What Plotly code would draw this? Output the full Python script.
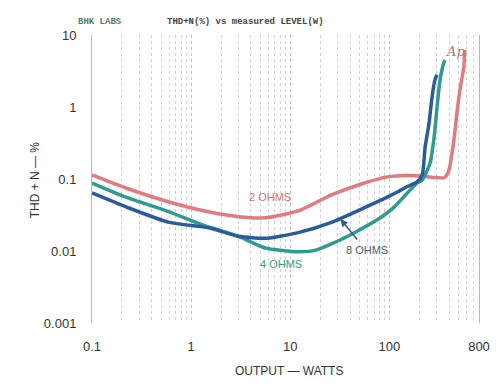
import math
import plotly.graph_objects as go

# THD+N vs output power
watts_2ohm = [0.1, 0.22, 0.6, 1.5, 3, 5.6, 12, 26, 56, 95, 150, 210, 280, 360, 398, 447, 479, 513, 562, 575]
thd_2ohm = [0.114, 0.075, 0.048, 0.035, 0.030, 0.029, 0.036, 0.060, 0.088, 0.107, 0.112, 0.110, 0.105, 0.105, 0.133, 0.35, 0.83, 1.7, 3.6, 6.2]

watts_4ohm = [0.1, 0.22, 0.6, 1.3, 3, 5.6, 12, 18, 38, 81, 110, 150, 190, 214, 257, 282, 302, 324, 355, 363]
thd_4ohm = [0.088, 0.056, 0.035, 0.023, 0.016, 0.011, 0.0098, 0.0103, 0.016, 0.029, 0.040, 0.063, 0.088, 0.097, 0.167, 0.38, 1.0, 2.4, 4.2, 4.5]

watts_8ohm = [0.1, 0.22, 0.6, 1.5, 3, 5.6, 12, 26, 56, 95, 120, 150, 190, 214, 229, 251, 269, 288, 302]
thd_8ohm = [0.064, 0.041, 0.025, 0.021, 0.016, 0.015, 0.018, 0.025, 0.040, 0.056, 0.066, 0.078, 0.091, 0.114, 0.28, 0.60, 1.38, 2.4, 2.8]

x_ticks = [0.1, 1, 10, 100, 800]
x_tick_text = ["0.1", "1", "10", "100", "800"]
y_ticks = [0.001, 0.01, 0.1, 1, 10]
y_tick_text = ["0.001", "0.01", "0.1", "1", "10"]

fig = go.Figure()
fig.add_trace(go.Scatter(x=watts_2ohm, y=thd_2ohm, mode="lines", line=dict(color="#e07b80", width=3.5, shape="spline", smoothing=0.6)))
fig.add_trace(go.Scatter(x=watts_4ohm, y=thd_4ohm, mode="lines", line=dict(color="#2f9a92", width=3.5, shape="spline", smoothing=0.6)))
fig.add_trace(go.Scatter(x=watts_8ohm, y=thd_8ohm, mode="lines", line=dict(color="#2a5c9c", width=3.5, shape="spline", smoothing=0.6)))

lab = dict(family="Liberation Sans", size=11)
fig.add_annotation(x=math.log10(6.3), y=-1.25, text="2 OHMS", showarrow=False, font=dict(lab, color="#d7716f"))
fig.add_annotation(x=math.log10(8.1), y=-2.18, text="4 OHMS", showarrow=False, font=dict(lab, color="#3aa07a"))
fig.add_annotation(x=math.log10(60), y=-1.99, text="8 OHMS", showarrow=False, font=dict(lab, color="#4a607a"))
fig.add_annotation(x=math.log10(32), y=-1.556, text="", showarrow=True, arrowhead=2, arrowsize=1,
                   arrowwidth=1.5, arrowcolor="#3c5a80", ax=18, ay=22)

# header and axis titles
fig.add_annotation(x=-0.041, y=1.069, xref="paper", yref="paper", text="<b>BHK LABS</b>", showarrow=False,
                   font=dict(family="Liberation Mono", size=9, color="#5a7a6a"))
fig.add_annotation(x=0.397, y=1.069, xref="paper", yref="paper", text="<b>THD+N(%) vs measured LEVEL(W)</b>", showarrow=False,
                   font=dict(family="Liberation Mono", size=9, color="#444"))
fig.add_annotation(x=0.969, y=0.976, xref="paper", yref="paper", text="<i>Ap</i>", showarrow=False,
                   font=dict(family="DejaVu Serif", size=13, color="#b0786e"))
fig.add_annotation(x=0.508, y=-0.198, xref="paper", yref="paper", text="OUTPUT — WATTS", showarrow=False,
                   font=dict(family="Liberation Sans", size=12, color="#333"))
fig.add_annotation(x=-0.172, y=0.497, xref="paper", yref="paper", text="THD + N — %", showarrow=False, textangle=-90,
                   font=dict(family="Liberation Sans", size=12, color="#333"))

fig.update_xaxes(type="log", range=[-1, math.log10(800)], tickvals=x_ticks, ticktext=x_tick_text,
                 showgrid=True, gridcolor="#c4c4c4", gridwidth=1, griddash="dot",
                 minor=dict(showgrid=True, gridcolor="#d2d2d2", gridwidth=1, griddash="dot", dtick="D1"),
                 zeroline=False, showline=False, ticks="", ticklabelstandoff=14)
fig.update_yaxes(type="log", range=[-3, 1], tickvals=y_ticks, ticktext=y_tick_text,
                 showgrid=False, zeroline=False, showline=True, linecolor="#b8b8b8", linewidth=1, mirror=True,
                 ticks="", ticklabelstandoff=12)
fig.update_layout(width=502, height=387, showlegend=False, plot_bgcolor="white", paper_bgcolor="white",
                  margin=dict(l=92, r=20, t=35, b=64),
                  font=dict(family="Liberation Sans", size=13, color="#333"))
fig.write_html("out.html", config={"displayModeBar": False},
               post_script="document.body.style.margin='0';document.body.style.padding='0';")
